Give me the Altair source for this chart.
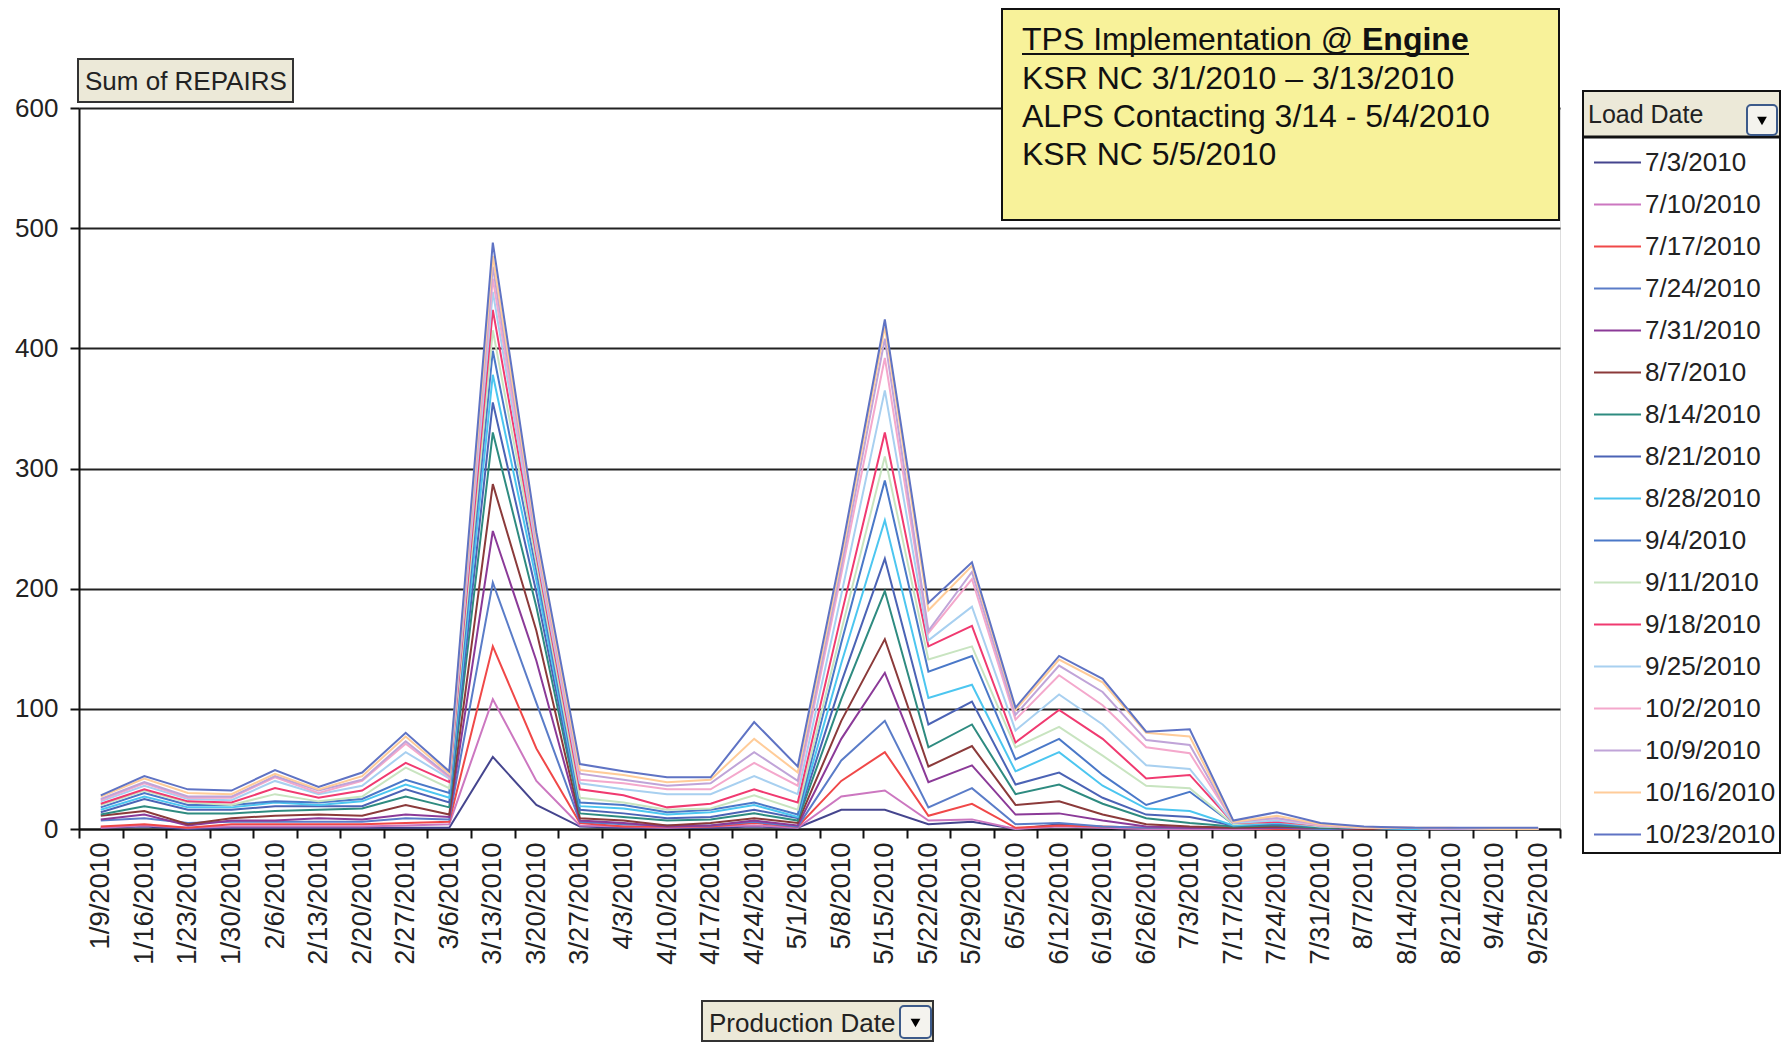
import altair as alt
import pandas as pd

FONT = "Liberation Sans"

prod_dates = ["1/9/2010", "1/16/2010", "1/23/2010", "1/30/2010", "2/6/2010", "2/13/2010",
              "2/20/2010", "2/27/2010", "3/6/2010", "3/13/2010", "3/20/2010", "3/27/2010",
              "4/3/2010", "4/10/2010", "4/17/2010", "4/24/2010", "5/1/2010", "5/8/2010",
              "5/15/2010", "5/22/2010", "5/29/2010", "6/5/2010", "6/12/2010", "6/19/2010",
              "6/26/2010", "7/3/2010", "7/17/2010", "7/24/2010", "7/31/2010", "8/7/2010",
              "8/14/2010", "8/21/2010", "9/4/2010", "9/25/2010"]

load_dates = ["7/3/2010", "7/10/2010", "7/17/2010", "7/24/2010", "7/31/2010", "8/7/2010",
              "8/14/2010", "8/21/2010", "8/28/2010", "9/4/2010", "9/11/2010", "9/18/2010",
              "9/25/2010", "10/2/2010", "10/9/2010", "10/16/2010", "10/23/2010"]

line_colors = ["#45458E", "#CC77C0", "#F04848", "#5A7CC8", "#8B3A98", "#8B3A3A",
               "#2E8B80", "#4B63B5", "#4CC6F0", "#4A78C8", "#C8E4C0", "#F03A70",
               "#A8D0F0", "#F4A8CC", "#C0A4D8", "#FFCC99", "#5F73C4"]

# Sum of REPAIRS per production date, one list per load date
ld_0703 = [1, 2, 0, 1, 1, 1, 1, 1, 1, 60, 20, 2, 1, 1, 1, 2, 1, 16, 16, 4, 6, 0, 4, 1, 0, 0, 0, 0, 0, 0, 0, 0, 0, 0]
ld_0710 = [1, 3, 1, 2, 2, 2, 2, 3, 4, 108, 40, 3, 2, 1, 2, 3, 1, 27, 32, 7, 8, 0, 2, 1, 0, 0, 0, 0, 0, 0, 0, 0, 0, 0]
ld_0717 = [2, 4, 1, 4, 4, 4, 4, 5, 6, 152, 67, 5, 2, 2, 2, 5, 2, 40, 64, 11, 21, 1, 3, 2, 1, 1, 1, 0, 0, 0, 0, 0, 0, 0]
ld_0724 = [7, 9, 5, 6, 6, 6, 6, 9, 8, 205, 105, 6, 4, 3, 3, 6, 2, 57, 90, 18, 34, 4, 5, 2, 1, 1, 1, 1, 0, 0, 0, 0, 0, 0]
ld_0731 = [8, 12, 3, 7, 7, 9, 8, 12, 10, 248, 140, 7, 5, 2, 3, 7, 3, 75, 130, 39, 53, 12, 13, 7, 2, 1, 1, 1, 1, 0, 0, 0, 0, 0]
ld_0807 = [11, 15, 4, 9, 11, 12, 11, 20, 12, 287, 165, 9, 7, 3, 5, 9, 5, 90, 158, 52, 69, 20, 23, 12, 4, 2, 1, 2, 1, 0, 0, 0, 0, 0]
ld_0814 = [12, 19, 13, 13, 15, 16, 17, 27, 18, 330, 185, 13, 10, 7, 8, 13, 7, 108, 198, 68, 87, 29, 37, 21, 9, 5, 2, 3, 1, 1, 0, 0, 0, 0]
ld_0821 = [14, 25, 16, 16, 19, 19, 19, 33, 22, 355, 197, 16, 13, 9, 10, 16, 9, 122, 225, 87, 106, 37, 47, 26, 12, 10, 3, 4, 2, 1, 0, 0, 0, 0]
ld_0828 = [16, 27, 18, 18, 22, 20, 23, 37, 26, 378, 207, 19, 17, 12, 14, 20, 10, 138, 257, 109, 120, 48, 64, 36, 17, 15, 3, 5, 2, 1, 0, 0, 0, 0]
ld_0904 = [18, 30, 20, 20, 23, 22, 25, 41, 30, 398, 215, 22, 20, 14, 16, 22, 12, 155, 290, 131, 144, 58, 75, 45, 20, 31, 4, 6, 2, 1, 1, 0, 0, 0]
ld_0911 = [20, 32, 22, 20, 29, 23, 27, 51, 34, 415, 222, 26, 22, 16, 17, 28, 16, 165, 310, 141, 152, 68, 85, 61, 36, 34, 4, 6, 2, 1, 1, 0, 0, 0]
ld_0918 = [21, 33, 23, 22, 34, 26, 32, 55, 39, 432, 228, 33, 28, 18, 21, 33, 22, 178, 330, 152, 169, 72, 99, 75, 42, 45, 5, 6, 3, 1, 1, 0, 0, 0]
ld_0925 = [23, 36, 25, 24, 40, 29, 36, 64, 42, 447, 232, 38, 33, 29, 29, 44, 29, 195, 365, 157, 185, 82, 112, 87, 53, 50, 5, 7, 3, 1, 1, 0, 0, 0]
ld_1002 = [24, 38, 26, 26, 43, 30, 40, 71, 43, 458, 236, 41, 38, 33, 33, 55, 36, 212, 392, 163, 208, 91, 128, 103, 68, 63, 6, 9, 3, 1, 1, 0, 0, 0]
ld_1009 = [25, 39, 27, 27, 44, 32, 41, 73, 44, 468, 240, 46, 41, 36, 38, 64, 40, 218, 408, 165, 214, 95, 136, 114, 74, 70, 6, 9, 4, 1, 1, 0, 0, 0]
ld_1016 = [27, 42, 30, 29, 46, 33, 44, 77, 46, 477, 243, 49, 45, 39, 41, 75, 47, 225, 418, 182, 219, 99, 141, 122, 80, 77, 6, 11, 4, 1, 1, 1, 0, 0]
ld_1023 = [28, 44, 33, 32, 49, 35, 47, 80, 48, 488, 247, 54, 48, 43, 43, 89, 52, 230, 424, 188, 222, 101, 144, 125, 81, 83, 7, 14, 5, 2, 1, 1, 1, 1]

series = [ld_0703, ld_0710, ld_0717, ld_0724, ld_0731, ld_0807, ld_0814, ld_0821, ld_0828,
          ld_0904, ld_0911, ld_0918, ld_0925, ld_1002, ld_1009, ld_1016, ld_1023]

y_ticks = [0, 100, 200, 300, 400, 500, 600]

rows = []
for ld, vals in zip(load_dates, series):
    for i, (pd_, v) in enumerate(zip(prod_dates, vals)):
        rows.append({"load": ld, "prod": pd_, "idx": i, "repairs": v})
df = pd.DataFrame(rows)

W, H = 1481, 721

lines = alt.Chart(df).mark_line(strokeWidth=2).encode(
    x=alt.X("prod:N", sort=prod_dates,
            scale=alt.Scale(type="band", paddingInner=0, paddingOuter=0),
            axis=alt.Axis(title=None, labelAngle=-90, labelFontSize=27.5, labelFont=FONT,
                          labelColor="#222", tickBand="extent", tickSize=9, tickColor="#111",
                          tickWidth=2, domainColor="#111", domainWidth=2, labelPadding=4,
                          grid=False, labelOverlap=False)),
    y=alt.Y("repairs:Q", scale=alt.Scale(domain=[0, 600], nice=False),
            axis=alt.Axis(title=None, values=y_ticks, tickSize=9, tickColor="#111", tickWidth=2,
                          domainColor="#111", domainWidth=2, grid=True, gridColor="#222",
                          gridWidth=2, labelFontSize=26, labelFont=FONT, labelColor="#222",
                          labelPadding=12)),
    color=alt.Color("load:N", sort=load_dates,
                    scale=alt.Scale(domain=load_dates, range=line_colors),
                    legend=alt.Legend(title="Load Date", orient="none", legendX=1509, legendY=-5,
                                      symbolType="stroke", symbolSize=2209, symbolStrokeWidth=2,
                                      symbolOffset=5, labelFontSize=26, labelFont=FONT,
                                      labelColor="#222", labelOffset=3, titleFontSize=25,
                                      titleFont=FONT, titleFontWeight="normal", titleColor="#222",
                                      titlePadding=10, rowPadding=4, padding=0, zindex=1,
                                      labelLimit=0, titleAnchor="start")),
    order=alt.Order("idx:Q"),
)

one = pd.DataFrame({"d": [0]})


def box(x1, x2, y1, y2, fill, stroke="#111", sw=2, radius=0):
    return alt.Chart(one).mark_rect(fill=fill, stroke=stroke, strokeWidth=sw, cornerRadius=radius).encode(
        x=alt.value(x1), x2=alt.value(x2), y=alt.value(y1), y2=alt.value(y2))


def label(x, y, text, size, weight="normal", color="#111"):
    return alt.Chart(one).mark_text(text=text, align="left", baseline="alphabetic", fontSize=size,
                                    font=FONT, fontWeight=weight, color=color).encode(
        x=alt.value(x), y=alt.value(y))


def tri(x, y):
    return alt.Chart(one).mark_point(shape="triangle-down", filled=True, size=95, color="#000",
                                     opacity=1).encode(x=alt.value(x), y=alt.value(y))


# annotation box
note = [
    box(923, 1480, -99, 112, "#F8F29A"),
    label(943, -58, "TPS Implementation @ ", 32),
    label(1283, -58, "Engine", 32, weight="bold"),
    alt.Chart(one).mark_rule(color="#111", strokeWidth=2).encode(
        x=alt.value(943), x2=alt.value(1390), y=alt.value(-54)),
    label(943, -19, "KSR NC 3/1/2010 \u2013 3/13/2010", 32),
    label(943, 19, "ALPS Contacting 3/14 - 5/4/2010", 32),
    label(943, 57, "KSR NC 5/5/2010", 32),
]

# field buttons
buttons = [
    box(-1, 214, -49, -6, "#ECE9D8", stroke="#333"),
    label(6, -18, "Sum of REPAIRS", 26, color="#222"),
    box(623, 854, 893, 933, "#ECE9D8", stroke="#333"),
    label(630, 924, "Production Date", 26, color="#222"),
    box(821, 852, 898, 930, "#F4F3EE", stroke="#3C5A8A", radius=4),
    tri(836.5, 915),
]

# legend frame
frame = [
    box(1504, 1701, -17, 745, "#FFFFFF", stroke="#111"),
    box(1504, 1701, -17, 29, "#ECE9D8", stroke="#111"),
    alt.Chart(one).mark_rule(color="#111", strokeWidth=3).encode(
        x=alt.value(1504), x2=alt.value(1701), y=alt.value(29)),
    box(1668, 1698, -3, 27, "#F4F3EE", stroke="#3C5A8A", radius=4),
    tri(1683, 13),
]

chart = alt.layer(*frame, lines, *note, *buttons).properties(
    width=W, height=H,
    autosize=alt.AutoSizeParams(type="none"),
    padding={"left": 71, "top": 100, "right": 221, "bottom": 214},
    background="#FFFFFF",
).configure_view(strokeWidth=0).configure(font=FONT)

chart.save("out.html", embed_options={"renderer": "svg", "actions": False})
